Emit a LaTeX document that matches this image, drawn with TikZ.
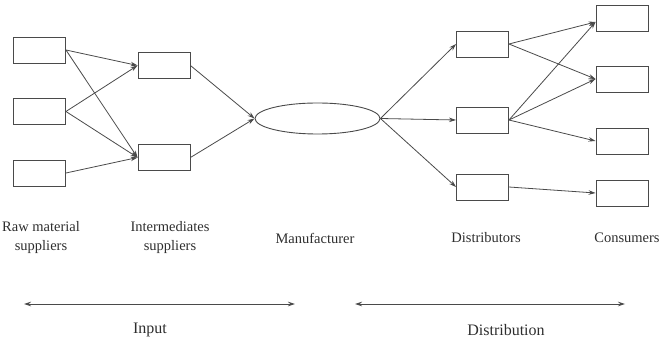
\documentclass[tikz,border=0pt]{standalone}
\usepackage{fontspec}
\setmainfont{Liberation Serif}
\usetikzlibrary{arrows.meta,shapes.geometric}
\definecolor{ink}{HTML}{4A4A4A}
\definecolor{txt}{HTML}{2E2E2E}
\tikzset{
  box/.style={draw=ink,line width=0.9pt,minimum width=52pt,minimum height=26pt,inner sep=0pt},
  oval/.style={draw=ink,line width=0.9pt,ellipse,minimum width=125pt,minimum height=31pt,inner sep=0pt},
  conn/.style={draw=ink,line width=0.8pt,-{Stealth[length=7pt,width=4.5pt]}},
  span/.style={draw=ink,line width=0.8pt,{Stealth[length=7pt,width=4.5pt]}-{Stealth[length=7pt,width=4.5pt]}},
  lbl/.style={text=txt,font=\fontsize{14.5}{19}\selectfont,align=center,inner sep=0pt},
  blbl/.style={text=txt,font=\fontsize{16}{19}\selectfont,inner sep=0pt}
}
\begin{document}
\begin{tikzpicture}[x=1pt,y=1pt]
\useasboundingbox (0,0) rectangle (660,345);
% raw material suppliers
\node[box] (r1) at (39.5,295) {};
\node[box] (r2) at (39.5,233.5) {};
\node[box] (r3) at (39.5,172) {};
% intermediates
\node[box] (i1) at (164,279.5) {};
\node[box] (i2) at (164,187.5) {};
% manufacturer
\node[oval] (m) at (317.5,226.5) {};
% distributors
\node[box] (d1) at (482.5,301) {};
\node[box] (d2) at (482.5,225) {};
\node[box] (d3) at (482.5,158) {};
% consumers
\node[box] (c1) at (622,327) {};
\node[box] (c2) at (622,266) {};
\node[box] (c3) at (622,204) {};
\node[box] (c4) at (622,152) {};
% connectors
\draw[conn] (r1.east) -- (i1.west);
\draw[conn] (r1.east) -- (i2.west);
\draw[conn] (r2.east) -- (i1.west);
\draw[conn] (r2.east) -- (i2.west);
\draw[conn] (r3.east) -- (i2.west);
\draw[conn] (i1.east) -- (m.west);
\draw[conn] (i2.east) -- (m.west);
\draw[conn] (m.east) -- (d1.west);
\draw[conn] (m.east) -- (d2.west);
\draw[conn] (m.east) -- (d3.west);
\draw[conn] (d1.east) -- ([yshift=-4pt]c1.west);
\draw[conn] (d1.east) -- (c2.west);
\draw[conn] (d2.east) -- ([yshift=-4pt]c1.west);
\draw[conn] (d2.east) -- (c2.west);
\draw[conn] (d2.east) -- (c3.west);
\draw[conn] (d3.east) -- (c4.west);
% labels
\node[lbl] (lr) at (41,107) {Raw material\\suppliers};
\node[lbl] (li) at (170,107) {Intermediates\\suppliers};
\node[lbl] (lm) at (315,107) {Manufacturer};
\node[lbl] (ld) at (486,107) {Distributors};
\node[lbl] (lc) at (627,107) {Consumers};
% spans
\coordinate (a1) at (24,41);
\coordinate (a2) at (295,41);
\coordinate (b1) at (355,41);
\coordinate (b2) at (625,41);
\draw[span] (a1) -- (a2);
\draw[span] (b1) -- (b2);
\node[blbl] (lin) at (150,15) {Input};
\node[blbl] (ldi) at (506,15) {Distribution};
\end{tikzpicture}
\end{document}
